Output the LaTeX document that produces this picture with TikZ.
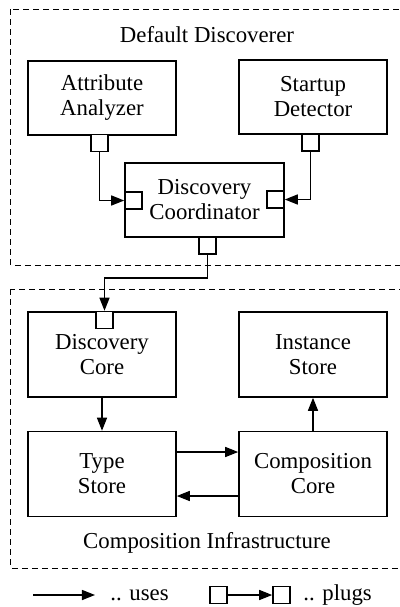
\documentclass[tikz,border=0pt]{standalone}
\usepackage{fontspec}
\setmainfont{Liberation Serif}
\usetikzlibrary{arrows.meta}

\begin{document}
\begin{tikzpicture}[
  x=0.5pt, y=-0.5pt,
  font=\fontsize{11.4}{12.5}\selectfont,
  comp/.style={draw, line width=0.8pt, minimum width=74pt, minimum height=37pt,
               align=center, inner sep=2pt},
  tall/.style={comp, minimum height=42.5pt},
  plug/.style={draw, line width=0.8pt, fill=white, minimum size=8.5pt,
               inner sep=0pt},
  ar/.style={-{Triangle[length=6.5pt,width=5pt]}, line width=0.7pt},
  group/.style={draw, dash pattern=on 3pt off 2pt, line width=0.5pt},
  lab/.style={inner sep=0pt},
]
\useasboundingbox (0,0) rectangle (400,607);

% ---------------- default discoverer ----------------
\draw[group] (11,9) rectangle (404,265);
\node[lab] (ddLab) at (207,35) {Default Discoverer};

\node[comp] (aa) at (102,98) {Attribute\\Analyzer};
\node[comp] (sd) at (313,97) {Startup\\Detector};
\node[comp, minimum width=79.5pt] (dc) at (204.5,200) {Discovery\\Coordinator};

\node[plug] (aaP) at (99.5,143) {};
\node[plug] (sdP) at (310.5,142.5) {};
\node[plug] (dcL) at (133.5,200.5) {};
\node[plug] (dcR) at (275.5,199.5) {};
\node[plug] (dcP) at (207.5,245.5) {};

\draw[ar] (aaP.south) |- (dcL.west);
\draw[ar] (sdP.south) |- (dcR.east);

% ---------------- composition infrastructure ----------------
\draw[group] (11,289) rectangle (404,568);
\node[lab] (ciLab) at (207,543) {Composition Infrastructure};

\node[tall] (dcore) at (102,354.5) {Discovery\\Core};
\node[tall] (istore) at (313,354.5) {Instance\\Store};
\node[tall] (tstore) at (102,474) {Type\\Store};
\node[tall] (ccore) at (313,474) {Composition\\Core};

\node[plug] (dcoreP) at (104.5,320) {};

% the coordinator plugs into the discovery core
\draw[ar] (dcP.south) -- ++(0,23) -| (dcoreP.north);

\draw[ar] (dcore) -- (tstore);
\draw[ar] (ccore) -- (istore);
\draw[ar] ([yshift=11pt]tstore.east) -- ([yshift=11pt]ccore.west);
\draw[ar] ([yshift=-11pt]ccore.west) -- ([yshift=-11pt]tstore.east);

% ---------------- legend ----------------
\coordinate (legA) at (33,595);
\coordinate (legB) at (95,595);
\draw[ar] (legA) -- (legB);
\node[lab, anchor=west] (legUses) at (110,595) {.. uses};

\node[plug] (legP1) at (218.5,595) {};
\node[plug] (legP2) at (281.5,595) {};
\draw[ar] (legP1) -- (legP2);
\node[lab, anchor=west] (legPlugs) at (303,595) {.. plugs};

\end{tikzpicture}
\end{document}
